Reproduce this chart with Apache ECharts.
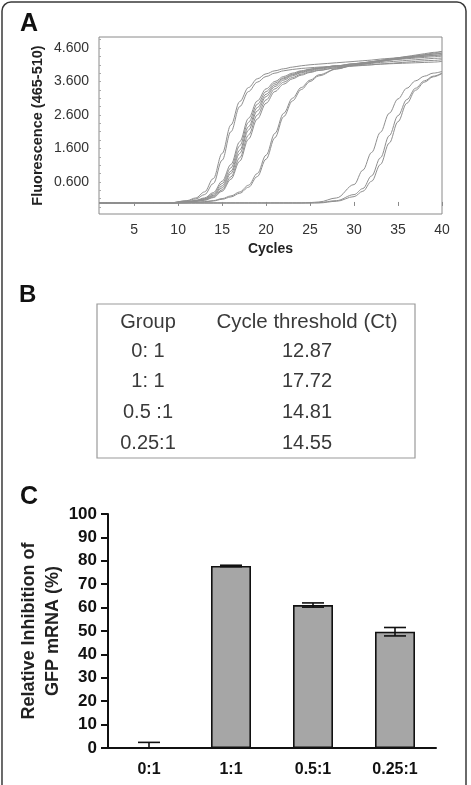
<!DOCTYPE html>
<html>
<head>
<meta charset="utf-8">
<script src="https://cdn.jsdelivr.net/npm/echarts@6/dist/echarts.min.js"></script>
<style>
  html, body { margin: 0; padding: 0; background: #fff; }
  #main { width: 471px; height: 785px; }
</style>
</head>
<body>
<div id="main"></div>
<script>
// panel A: amplification curves
const cycles = [1, 9, 11, 12, 13, 14, 15, 16, 17, 18, 19, 20, 21, 22, 23, 24, 25, 26, 28, 30, 31, 32, 33, 34, 35, 36, 37, 38, 39, 40]
const earlyCurves = [
  [-0.03, -0.03, 0.04, 0.12, 0.3, 0.7, 1.45, 2.3, 3.0, 3.42, 3.68, 3.83, 3.92, 3.98, 4.03, 4.07, 4.1, 4.12, 4.16, 4.2, 4.22, 4.24, 4.27, 4.29, 4.31, 4.34, 4.36, 4.39, 4.42, 4.45],
  [-0.03, -0.03, 0.03, 0.09, 0.22, 0.55, 1.25, 2.1, 2.85, 3.3, 3.58, 3.75, 3.85, 3.92, 3.96, 3.99, 4.01, 4.03, 4.06, 4.08, 4.09, 4.1, 4.12, 4.13, 4.14, 4.15, 4.16, 4.17, 4.18, 4.2]
]
const midCurves = [
  [-0.03, -0.03, 0.01, 0.05, 0.12, 0.28, 0.62, 1.12, 1.8, 2.5, 3.02, 3.38, 3.6, 3.75, 3.85, 3.92, 3.97, 4.01, 4.07, 4.13, 4.16, 4.19, 4.23, 4.27, 4.31, 4.35, 4.39, 4.43, 4.47, 4.5],
  [-0.03, -0.03, 0.0, 0.04, 0.1, 0.24, 0.55, 1.02, 1.68, 2.38, 2.92, 3.3, 3.55, 3.71, 3.82, 3.9, 3.96, 4.0, 4.07, 4.13, 4.16, 4.19, 4.22, 4.25, 4.28, 4.31, 4.33, 4.35, 4.38, 4.4],
  [-0.03, -0.03, 0.0, 0.03, 0.09, 0.2, 0.48, 0.92, 1.55, 2.25, 2.82, 3.22, 3.5, 3.68, 3.8, 3.88, 3.94, 3.99, 4.06, 4.12, 4.15, 4.18, 4.21, 4.24, 4.26, 4.28, 4.3, 4.32, 4.34, 4.36],
  [-0.03, -0.03, 0.0, 0.03, 0.08, 0.18, 0.42, 0.85, 1.45, 2.15, 2.72, 3.15, 3.45, 3.64, 3.77, 3.86, 3.92, 3.97, 4.04, 4.09, 4.12, 4.14, 4.17, 4.19, 4.21, 4.23, 4.25, 4.27, 4.29, 4.3],
  [-0.03, -0.03, -0.01, 0.02, 0.06, 0.15, 0.36, 0.75, 1.32, 2.0, 2.6, 3.05, 3.38, 3.58, 3.72, 3.82, 3.89, 3.94, 4.01, 4.06, 4.08, 4.1, 4.12, 4.14, 4.16, 4.18, 4.2, 4.22, 4.23, 4.25],
  [-0.03, -0.03, -0.01, 0.02, 0.05, 0.13, 0.32, 0.68, 1.22, 1.88, 2.48, 2.95, 3.3, 3.52, 3.68, 3.79, 3.87, 3.93, 4.01, 4.08, 4.12, 4.16, 4.2, 4.24, 4.27, 4.3, 4.33, 4.36, 4.38, 4.4]
]
const laterCurves = [
  [-0.03, -0.03, -0.02, -0.01, 0.01, 0.04, 0.1, 0.18, 0.3, 0.5, 0.85, 1.4, 2.05, 2.65, 3.1, 3.42, 3.64, 3.8, 3.98, 4.08, 4.12, 4.16, 4.2, 4.24, 4.28, 4.32, 4.36, 4.4, 4.45, 4.5],
  [-0.03, -0.03, -0.02, -0.01, 0.0, 0.03, 0.08, 0.15, 0.26, 0.44, 0.76, 1.28, 1.92, 2.55, 3.02, 3.36, 3.6, 3.77, 3.97, 4.1, 4.15, 4.19, 4.23, 4.27, 4.3, 4.33, 4.36, 4.39, 4.42, 4.45]
]
const lateCurves = [
  [-0.03, -0.03, -0.03, -0.03, -0.03, -0.03, -0.03, -0.03, -0.03, -0.03, -0.03, -0.03, -0.03, -0.03, -0.03, -0.03, -0.02, 0.0, 0.12, 0.52, 0.95, 1.48, 2.08, 2.65, 3.08, 3.4, 3.62, 3.76, 3.85, 3.9],
  [-0.03, -0.03, -0.03, -0.03, -0.03, -0.03, -0.03, -0.03, -0.03, -0.03, -0.03, -0.03, -0.03, -0.03, -0.03, -0.03, -0.03, -0.02, 0.04, 0.22, 0.4, 0.78, 1.32, 1.98, 2.58, 3.06, 3.4, 3.62, 3.76, 3.85],
  [-0.03, -0.03, -0.03, -0.03, -0.03, -0.03, -0.03, -0.03, -0.03, -0.03, -0.03, -0.03, -0.03, -0.03, -0.03, -0.03, -0.03, -0.03, 0.02, 0.16, 0.32, 0.62, 1.12, 1.76, 2.4, 2.95, 3.34, 3.58, 3.74, 3.84]
]
const cycleTicks = [5, 10, 15, 20, 25, 30, 35, 40]
const fluoTicks = [0.6, 1.6, 2.6, 3.6, 4.6]

// panel B: table
const tableGroups = ['0: 1', '1: 1', '0.5 :1', '0.25:1']
const ctValues = [12.87, 17.72, 14.81, 14.55]

// panel C: bars
const ratioGroups = ['0:1', '1:1', '0.5:1', '0.25:1']
const inhibition = [0, 77.8, 61.1, 49.7]
const inhibitionErr = [2.4, 0.3, 0.9, 1.8]

const FONT = 'Liberation Sans, Arial, sans-serif'
const chart = echarts.init(document.getElementById('main'), null, { renderer: 'canvas' })

const allCurves = [].concat(earlyCurves, midCurves, laterCurves, lateCurves)
const curveSeries = allCurves.map(vals => ({
  type: 'line',
  xAxisIndex: 0,
  yAxisIndex: 0,
  data: cycles.map((c, i) => [c, vals[i]]),
  showSymbol: false,
  smooth: 0.35,
  smoothMonotone: 'x',
  lineStyle: { color: '#8f8f8f', width: 1 },
  silent: true
}))

// small ticks every 0.25 on the fluorescence axis
const fluoMinorTicks = []
for (let v = -0.15; v < 4.9; v += 0.25) fluoMinorTicks.push(+v.toFixed(2))

const txt = (text, x, y, size, weight, align, color) => ({
  type: 'text',
  x: x, y: y,
  style: {
    text: text,
    font: (weight || 'normal') + ' ' + size + 'px ' + FONT,
    fill: color || '#3a3a3a',
    textAlign: align || 'center', align: align || 'center',
    textVerticalAlign: 'middle', verticalAlign: 'middle'
  }
})

const graphics = [
  { type: 'rect', shape: { x: 2, y: 2, width: 464, height: 800, r: 9 },
    style: { fill: 'none', stroke: '#3a3a3a', lineWidth: 1.5 } },
  txt('A', 20, 24, 25, 'bold', 'left', '#111'),
  txt('B', 19, 295, 24, 'bold', 'left', '#111'),
  txt('C', 20, 497, 25, 'bold', 'left', '#111'),
  { type: 'rect', shape: { x: 97, y: 304, width: 318, height: 154 },
    style: { fill: 'none', stroke: '#9a9a9a', lineWidth: 1.2 } },
  txt('Group', 148, 322, 20),
  txt('Cycle threshold (Ct)', 307, 322, 20.5)
]
const rowY = [351, 381, 412, 443]
tableGroups.forEach((g, i) => {
  graphics.push(txt(g, 148, rowY[i], 20))
  graphics.push(txt(ctValues[i].toFixed(2), 307, rowY[i], 20))
})

const option = {
  animation: false,
  backgroundColor: '#fff',
  textStyle: { fontFamily: FONT },
  grid: [
    { left: 99, top: 37, width: 343, height: 177, show: true, borderColor: '#8a8a8a', borderWidth: 1, backgroundColor: 'transparent' },
    { left: 108, top: 514, width: 328, height: 234 }
  ],
  xAxis: [
    {
      gridIndex: 0, type: 'value', min: 1, max: 40,
      name: 'Cycles', nameLocation: 'middle', nameGap: 28, nameMoveOverlap: false,
      nameTextStyle: { fontFamily: FONT, fontWeight: 'bold', fontSize: 14, color: '#222' },
      axisLine: { show: false },
      axisTick: { show: true, length: 4, customValues: cycleTicks, lineStyle: { color: '#8a8a8a' } },
      axisLabel: { customValues: cycleTicks, fontFamily: FONT, fontSize: 14, color: '#333', margin: 9 },
      splitLine: { show: false }
    },
    {
      gridIndex: 1, type: 'category', data: ratioGroups,
      axisLine: { lineStyle: { color: '#111', width: 2 } },
      axisTick: { show: false },
      axisLabel: { fontFamily: FONT, fontWeight: 'bold', fontSize: 16, color: '#111', margin: 14 }
    }
  ],
  yAxis: [
    {
      gridIndex: 0, type: 'value', min: -0.36, max: 4.93,
      name: 'Fluorescence (465-510)', nameLocation: 'middle', nameGap: 54, nameMoveOverlap: false,
      nameTextStyle: { fontFamily: FONT, fontWeight: 'bold', fontSize: 14.5, color: '#222' },
      axisLine: { show: false },
      axisTick: { show: true, inside: true, length: 2, customValues: fluoMinorTicks, lineStyle: { color: '#aaa' } },
      axisLabel: { customValues: fluoTicks, formatter: v => v.toFixed(3), fontFamily: FONT, fontSize: 14, color: '#333', margin: 10 },
      splitLine: { show: false }
    },
    {
      gridIndex: 1, type: 'value', min: 0, max: 100, interval: 10,
      name: 'Relative Inhibition of\nGFP mRNA (%)', nameLocation: 'middle', nameGap: 43, nameMoveOverlap: false,
      nameTextStyle: { fontFamily: FONT, fontWeight: 'bold', fontSize: 18, color: '#222', lineHeight: 24 },
      axisLine: { show: true, lineStyle: { color: '#111', width: 2 } },
      axisTick: { show: true, length: 7, lineStyle: { color: '#111', width: 2 } },
      axisLabel: { fontFamily: FONT, fontWeight: 'bold', fontSize: 17, color: '#111', margin: 11 },
      splitLine: { show: false }
    }
  ],
  graphic: { elements: graphics },
  series: curveSeries.concat([
    {
      type: 'bar', xAxisIndex: 1, yAxisIndex: 1,
      data: inhibition,
      barWidth: 40,
      itemStyle: { color: '#a6a6a6', borderColor: '#111', borderWidth: 1.6 }
    },
    {
      type: 'custom', xAxisIndex: 1, yAxisIndex: 1,
      data: ratioGroups.map((g, i) => [i, inhibition[i], inhibitionErr[i]]),
      z: 5,
      renderItem: (params, api) => {
        const v = api.value(1), e = api.value(2)
        const top = api.coord([api.value(0), v + e])
        const bot = api.coord([api.value(0), Math.max(v - e, 0)])
        const hw = 11
        const st = { stroke: '#111', lineWidth: 1.6 }
        return {
          type: 'group',
          children: [
            { type: 'line', shape: { x1: top[0], y1: top[1], x2: bot[0], y2: bot[1] }, style: st },
            { type: 'line', shape: { x1: top[0] - hw, y1: top[1], x2: top[0] + hw, y2: top[1] }, style: st },
            { type: 'line', shape: { x1: bot[0] - hw, y1: bot[1], x2: bot[0] + hw, y2: bot[1] }, style: st }
          ]
        }
      }
    }
  ])
}
chart.setOption(option)
</script>
</body>
</html>
